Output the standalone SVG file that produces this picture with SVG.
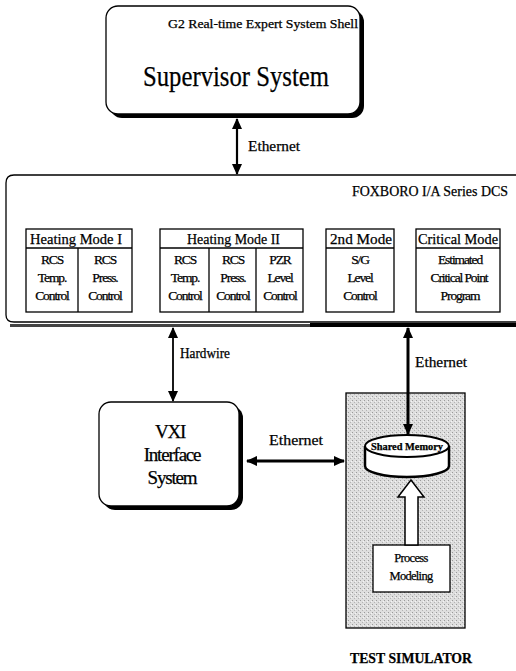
<svg xmlns="http://www.w3.org/2000/svg" width="516" height="671" viewBox="0 0 516 671">
<style>
text{font-family:"Liberation Serif","Times New Roman",serif;fill:#000;stroke:#000;stroke-width:0.25}
.box{fill:#fff;stroke:#000;stroke-width:1.3}
.shadow{fill:#000}
.hdr{font-size:15.5px}
.sub{font-size:13.5px;letter-spacing:-1.1px;text-anchor:middle}
.conn{stroke:#000;fill:none}
</style>
<defs>
<marker id="ah" markerUnits="userSpaceOnUse" markerWidth="11" markerHeight="10" refX="10" refY="5" orient="auto-start-reverse">
<path d="M0,0 L11,5 L0,10 z" fill="#000"/>
</marker>
<pattern id="stip" width="4" height="4" patternUnits="userSpaceOnUse">
<rect width="4" height="4" fill="#dedede"/>
<rect x="0" y="0" width="1" height="1" fill="#9a9a9a"/>
<rect x="2" y="2" width="1" height="1" fill="#b4b4b4"/>
<rect x="3" y="1" width="1" height="1" fill="#f4f4f4"/>
</pattern>
</defs>

<g id="supervisor">
<rect class="shadow" x="110" y="10" width="254" height="108" rx="12"/>
<rect class="box" x="106" y="6" width="254" height="108" rx="12"/>
<text x="168" y="28" font-size="12" textLength="190" lengthAdjust="spacingAndGlyphs">G2 Real-time Expert System Shell</text>
<text x="143" y="86" font-size="30" textLength="186" lengthAdjust="spacingAndGlyphs">Supervisor System</text>
</g>

<g id="dcs">
<rect x="10" y="324" width="300" height="3" fill="#444"/>
<rect x="310" y="323" width="206" height="4" fill="#000"/>
<path class="box" d="M516,175 H14 Q6,175 6,183 V315 Q6,322 14,322 H516"/>
<text x="352" y="196" font-size="14.5" textLength="156" lengthAdjust="spacingAndGlyphs">FOXBORO I/A Series DCS</text>
</g>

<g id="heating-mode-1">
<rect class="box" x="26" y="229" width="106" height="83"/>
<line class="conn" x1="26" y1="248" x2="132" y2="248" stroke-width="1.3"/>
<line class="conn" x1="78" y1="248" x2="78" y2="312" stroke-width="1.3"/>
<text class="hdr" x="30" y="244" textLength="92" lengthAdjust="spacingAndGlyphs">Heating Mode I</text>
<text class="sub" x="52" y="264">RCS</text>
<text class="sub" x="52" y="282">Temp.</text>
<text class="sub" x="52" y="300">Control</text>
<text class="sub" x="105" y="264">RCS</text>
<text class="sub" x="105" y="282">Press.</text>
<text class="sub" x="105" y="300">Control</text>
</g>

<g id="heating-mode-2">
<rect class="box" x="160" y="229" width="143" height="83"/>
<line class="conn" x1="160" y1="248" x2="303" y2="248" stroke-width="1.3"/>
<line class="conn" x1="209" y1="248" x2="209" y2="312" stroke-width="1.3"/>
<line class="conn" x1="256" y1="248" x2="256" y2="312" stroke-width="1.3"/>
<text class="hdr" x="187" y="244" textLength="93" lengthAdjust="spacingAndGlyphs">Heating Mode II</text>
<text class="sub" x="185" y="264">RCS</text>
<text class="sub" x="185" y="282">Temp.</text>
<text class="sub" x="185" y="300">Control</text>
<text class="sub" x="233" y="264">RCS</text>
<text class="sub" x="233" y="282">Press.</text>
<text class="sub" x="233" y="300">Control</text>
<text class="sub" x="280" y="264">PZR</text>
<text class="sub" x="280" y="282">Level</text>
<text class="sub" x="280" y="300">Control</text>
</g>

<g id="mode-2nd">
<rect class="box" x="326" y="229" width="68" height="83"/>
<line class="conn" x1="326" y1="248" x2="394" y2="248" stroke-width="1.3"/>
<text class="hdr" x="330" y="244" textLength="62" lengthAdjust="spacingAndGlyphs">2nd Mode</text>
<text class="sub" x="360" y="264">S/G</text>
<text class="sub" x="360" y="282">Level</text>
<text class="sub" x="360" y="300">Control</text>
</g>

<g id="critical-mode">
<rect class="box" x="416" y="229" width="84" height="83"/>
<line class="conn" x1="416" y1="248" x2="500" y2="248" stroke-width="1.3"/>
<text class="hdr" x="418" y="244" textLength="80" lengthAdjust="spacingAndGlyphs">Critical Mode</text>
<text class="sub" x="460" y="264" font-size="12.5">Estimated</text>
<text class="sub" x="459" y="282" font-size="12.5">Critical Point</text>
<text class="sub" x="460" y="300" font-size="12.5">Program</text>
</g>

<g id="vxi">
<rect class="shadow" x="103" y="406" width="140" height="104" rx="12"/>
<rect class="box" x="99" y="402" width="140" height="104" rx="12"/>
<text x="170" y="438" font-size="19" text-anchor="middle" letter-spacing="-1.2">VXI</text>
<text x="172" y="461" font-size="19" text-anchor="middle" letter-spacing="-1.2">Interface</text>
<text x="172" y="484" font-size="19" text-anchor="middle" letter-spacing="-1.2">System</text>
</g>

<g id="test-simulator">
<rect x="346" y="393" width="119" height="235" fill="url(#stip)" stroke="#000" stroke-width="1.3"/>
<text x="350" y="663" font-size="15" font-weight="bold" textLength="122" lengthAdjust="spacingAndGlyphs">TEST SIMULATOR</text>
</g>

<g id="shared-memory">
<path d="M365,446 V466 A42,11 0 0 0 449,466 V446" fill="#fff" stroke="#000" stroke-width="2.5"/>
<ellipse cx="407" cy="446" rx="42" ry="11" fill="#fff" stroke="#000" stroke-width="2"/>
<text x="371" y="450" font-size="10" font-weight="bold" textLength="72" lengthAdjust="spacingAndGlyphs">Shared Memory</text>
</g>

<g id="process-modeling">
<rect class="box" x="373" y="545" width="77" height="47"/>
<text x="411" y="562" font-size="12.5" text-anchor="middle" letter-spacing="-0.7">Process</text>
<text x="411" y="580" font-size="12.5" text-anchor="middle" letter-spacing="-0.7">Modeling</text>
</g>

<g id="connectors">
<line class="conn" x1="237" y1="119" x2="237" y2="174" stroke-width="2.2" marker-start="url(#ah)" marker-end="url(#ah)"/>
<text x="248" y="151" font-size="14.5" textLength="52" lengthAdjust="spacingAndGlyphs">Ethernet</text>
<line class="conn" x1="173" y1="328" x2="173" y2="401" stroke-width="1.8" marker-start="url(#ah)" marker-end="url(#ah)"/>
<text x="180" y="358" font-size="14" textLength="50" lengthAdjust="spacingAndGlyphs">Hardwire</text>
<line class="conn" x1="408" y1="328" x2="408" y2="434" stroke-width="3" marker-start="url(#ah)" marker-end="url(#ah)"/>
<text x="415" y="367" font-size="15" textLength="52" lengthAdjust="spacingAndGlyphs">Ethernet</text>
<line class="conn" x1="247" y1="461" x2="344" y2="461" stroke-width="3" marker-start="url(#ah)" marker-end="url(#ah)"/>
<text x="269" y="445" font-size="15" textLength="54" lengthAdjust="spacingAndGlyphs">Ethernet</text>
<polygon points="411,480 398,497 405,497 405,545 418,545 418,497 424,497" fill="#fff" stroke="#000" stroke-width="1.5"/>
</g>
</svg>
